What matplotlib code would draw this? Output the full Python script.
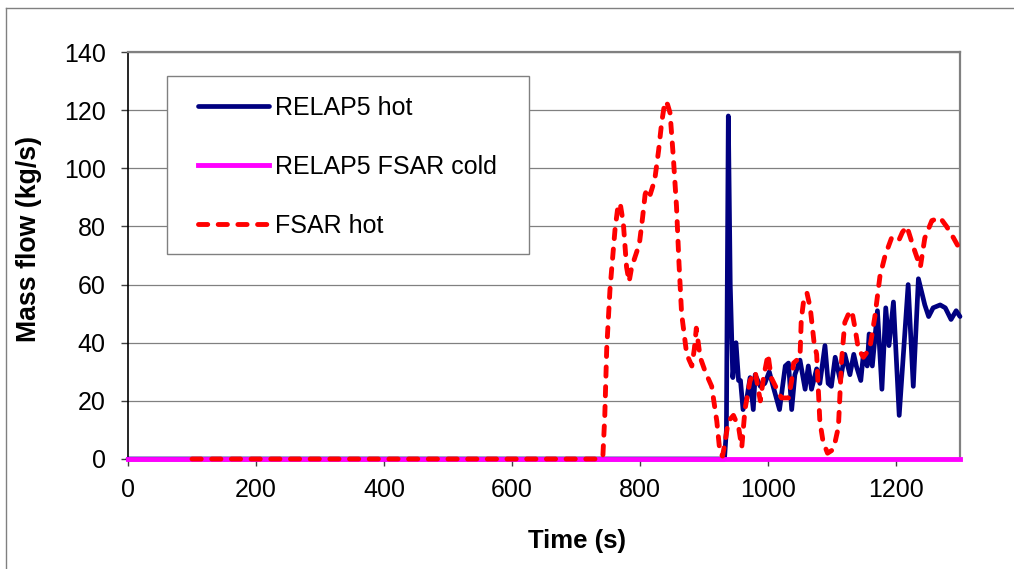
import matplotlib
matplotlib.use("Agg")
import matplotlib.pyplot as plt
from matplotlib.lines import Line2D
from matplotlib.patches import Rectangle

plt.rcParams['font.family'] = ['Liberation Sans', 'DejaVu Sans']

# ---- data ----
relap_hot_t = [0, 932, 935, 938, 941, 945, 950, 954, 957, 961, 967, 972, 977, 980, 988, 995,
               1002, 1008, 1018, 1027, 1032, 1037, 1042, 1050, 1058, 1063, 1068, 1076, 1081,
               1089, 1094, 1099, 1105, 1113, 1120, 1128, 1134, 1138, 1145, 1149, 1155, 1158,
               1163, 1171, 1178, 1184, 1189, 1196, 1205, 1219, 1227, 1235, 1245, 1251, 1258,
               1269, 1277, 1286, 1294, 1300]
relap_hot_v = [0, 0, 10, 118, 60, 28, 40, 27, 27, 17, 21, 28, 17, 29, 25, 26,
               30, 25, 17, 32, 33, 17, 29, 34, 24, 32, 24, 31, 26,
               39, 26, 25, 35, 27, 36, 29, 36, 32, 27, 36, 32, 43,
               32, 51, 24, 52, 39, 54, 15, 60, 25, 62, 53, 49, 52,
               53, 52, 48, 51, 49]

relap_cold_t = [0, 1300]
relap_cold_v = [0, 0]

fsar_hot_t = [100, 738, 742, 745, 748, 753, 756, 761, 765, 769, 774, 779, 783, 787, 793, 799,
              804, 808, 811, 816, 823, 829, 834, 839, 843, 847, 852, 857, 861, 865, 873, 881,
              885, 888, 891, 894, 902, 912, 920, 925, 929, 933, 938, 946, 954, 959, 964, 972,
              980, 988, 993, 1000, 1005, 1014, 1021, 1032, 1037, 1040, 1050, 1052, 1056, 1061,
              1066, 1072, 1076, 1081, 1086, 1093, 1100, 1105, 1110, 1115, 1120, 1126, 1131,
              1136, 1141, 1149, 1159, 1167, 1175, 1183, 1193, 1204, 1210, 1217, 1227, 1238,
              1245, 1256, 1269, 1279, 1290, 1300]
fsar_hot_v = [0, 0, 1, 15, 38, 58, 66, 79, 86, 88, 81, 66, 61, 66, 70, 74,
              83, 91, 93, 91, 96, 106, 116, 123, 122, 119, 104, 87, 67, 50, 36, 32,
              38, 45, 40, 35, 30, 25, 13, 2, 1, 6, 13, 15, 11, 4, 17, 27,
              30, 20, 28, 36, 28, 24, 21, 21, 27, 33, 35, 48, 55, 57,
              52, 40, 36, 13, 6, 2, 3, 6, 11, 34, 47, 50, 51,
              45, 38, 35, 38, 49, 63, 70, 76, 75, 78, 80, 73, 66,
              76, 82, 83, 80, 76, 72]

labels = ['RELAP5 hot', 'RELAP5 FSAR cold', 'FSAR hot']
x_ticks = [0, 200, 400, 600, 800, 1000, 1200]
y_ticks = [0, 20, 40, 60, 80, 100, 120, 140]

# ---- figure ----
W, H = 1014, 569
fig = plt.figure(figsize=(W / 100, H / 100), dpi=100)
fig.patch.set_facecolor('white')

# outer frame (top and left visible)
fig.add_artist(Line2D([6 / W, 6 / W], [0, 1 - 8 / H], transform=fig.transFigure,
                      color='#808080', lw=1))
fig.add_artist(Line2D([6 / W, 1], [1 - 8 / H, 1 - 8 / H], transform=fig.transFigure,
                      color='#808080', lw=1))

ax = fig.add_axes([128 / W, (H - 459) / H, 832 / W, 407 / H])
ax.set_xlim(0, 1300)
ax.set_ylim(0, 140)

ax.yaxis.grid(True, color='#808080', lw=0.9, zorder=0)
ax.set_axisbelow(True)

l1, = ax.plot(relap_hot_t, relap_hot_v, color='#000080', lw=3.4, zorder=4,
              solid_joinstyle='round', solid_capstyle='round', clip_on=False)
l2, = ax.plot(relap_cold_t, relap_cold_v, color='#FF00FF', lw=3.5, zorder=5,
              clip_on=False)
l3, = ax.plot(fsar_hot_t, fsar_hot_v, color='#FF0000', lw=3.5, zorder=6,
              linestyle=(0, (1.9, 2.15)), dash_capstyle='round', clip_on=False)

ax.set_xticks(x_ticks)
ax.set_yticks(y_ticks)
ax.tick_params(axis='x', direction='out', length=5, width=1, color='#404040',
               labelsize=18, pad=9)
ax.tick_params(axis='y', direction='out', length=5, width=1, color='#404040',
               labelsize=18, pad=11)

for s in ['top', 'right']:
    ax.spines[s].set_color('#808080')
    ax.spines[s].set_linewidth(1.6)
ax.spines['left'].set_color('black')
ax.spines['left'].set_linewidth(1.2)
ax.spines['bottom'].set_color('black')
ax.spines['bottom'].set_linewidth(1.2)

ax.set_xlabel('Time (s)', fontsize=18.5, fontweight='bold')
ax.xaxis.set_label_coords((577 - 128) / 832, (459 - 541) / 407)
ax.xaxis.label.set_va('center')
ax.set_ylabel('Mass flow (kg/s)', fontsize=19.2, fontweight='bold')
ax.yaxis.set_label_coords((29 - 128) / 832, (459 - 239) / 407)
ax.yaxis.label.set_va('center')

# legend frame
ax.add_patch(Rectangle(((167 - 128) / 832, (459 - 254) / 407), 362 / 832, 178 / 407,
                       transform=ax.transAxes, facecolor='white', edgecolor='#808080',
                       lw=1.0, zorder=3))
leg = ax.legend([l1, l2, l3], labels, loc='center left',
                bbox_to_anchor=((198 - 128) / 832, (459 - 167) / 407),
                frameon=False, fontsize=18, borderpad=0, borderaxespad=0,
                handlelength=2.84, handletextpad=0.25, labelspacing=1.4)
leg.set_zorder(7)

fig.savefig('out.png', dpi=100)
